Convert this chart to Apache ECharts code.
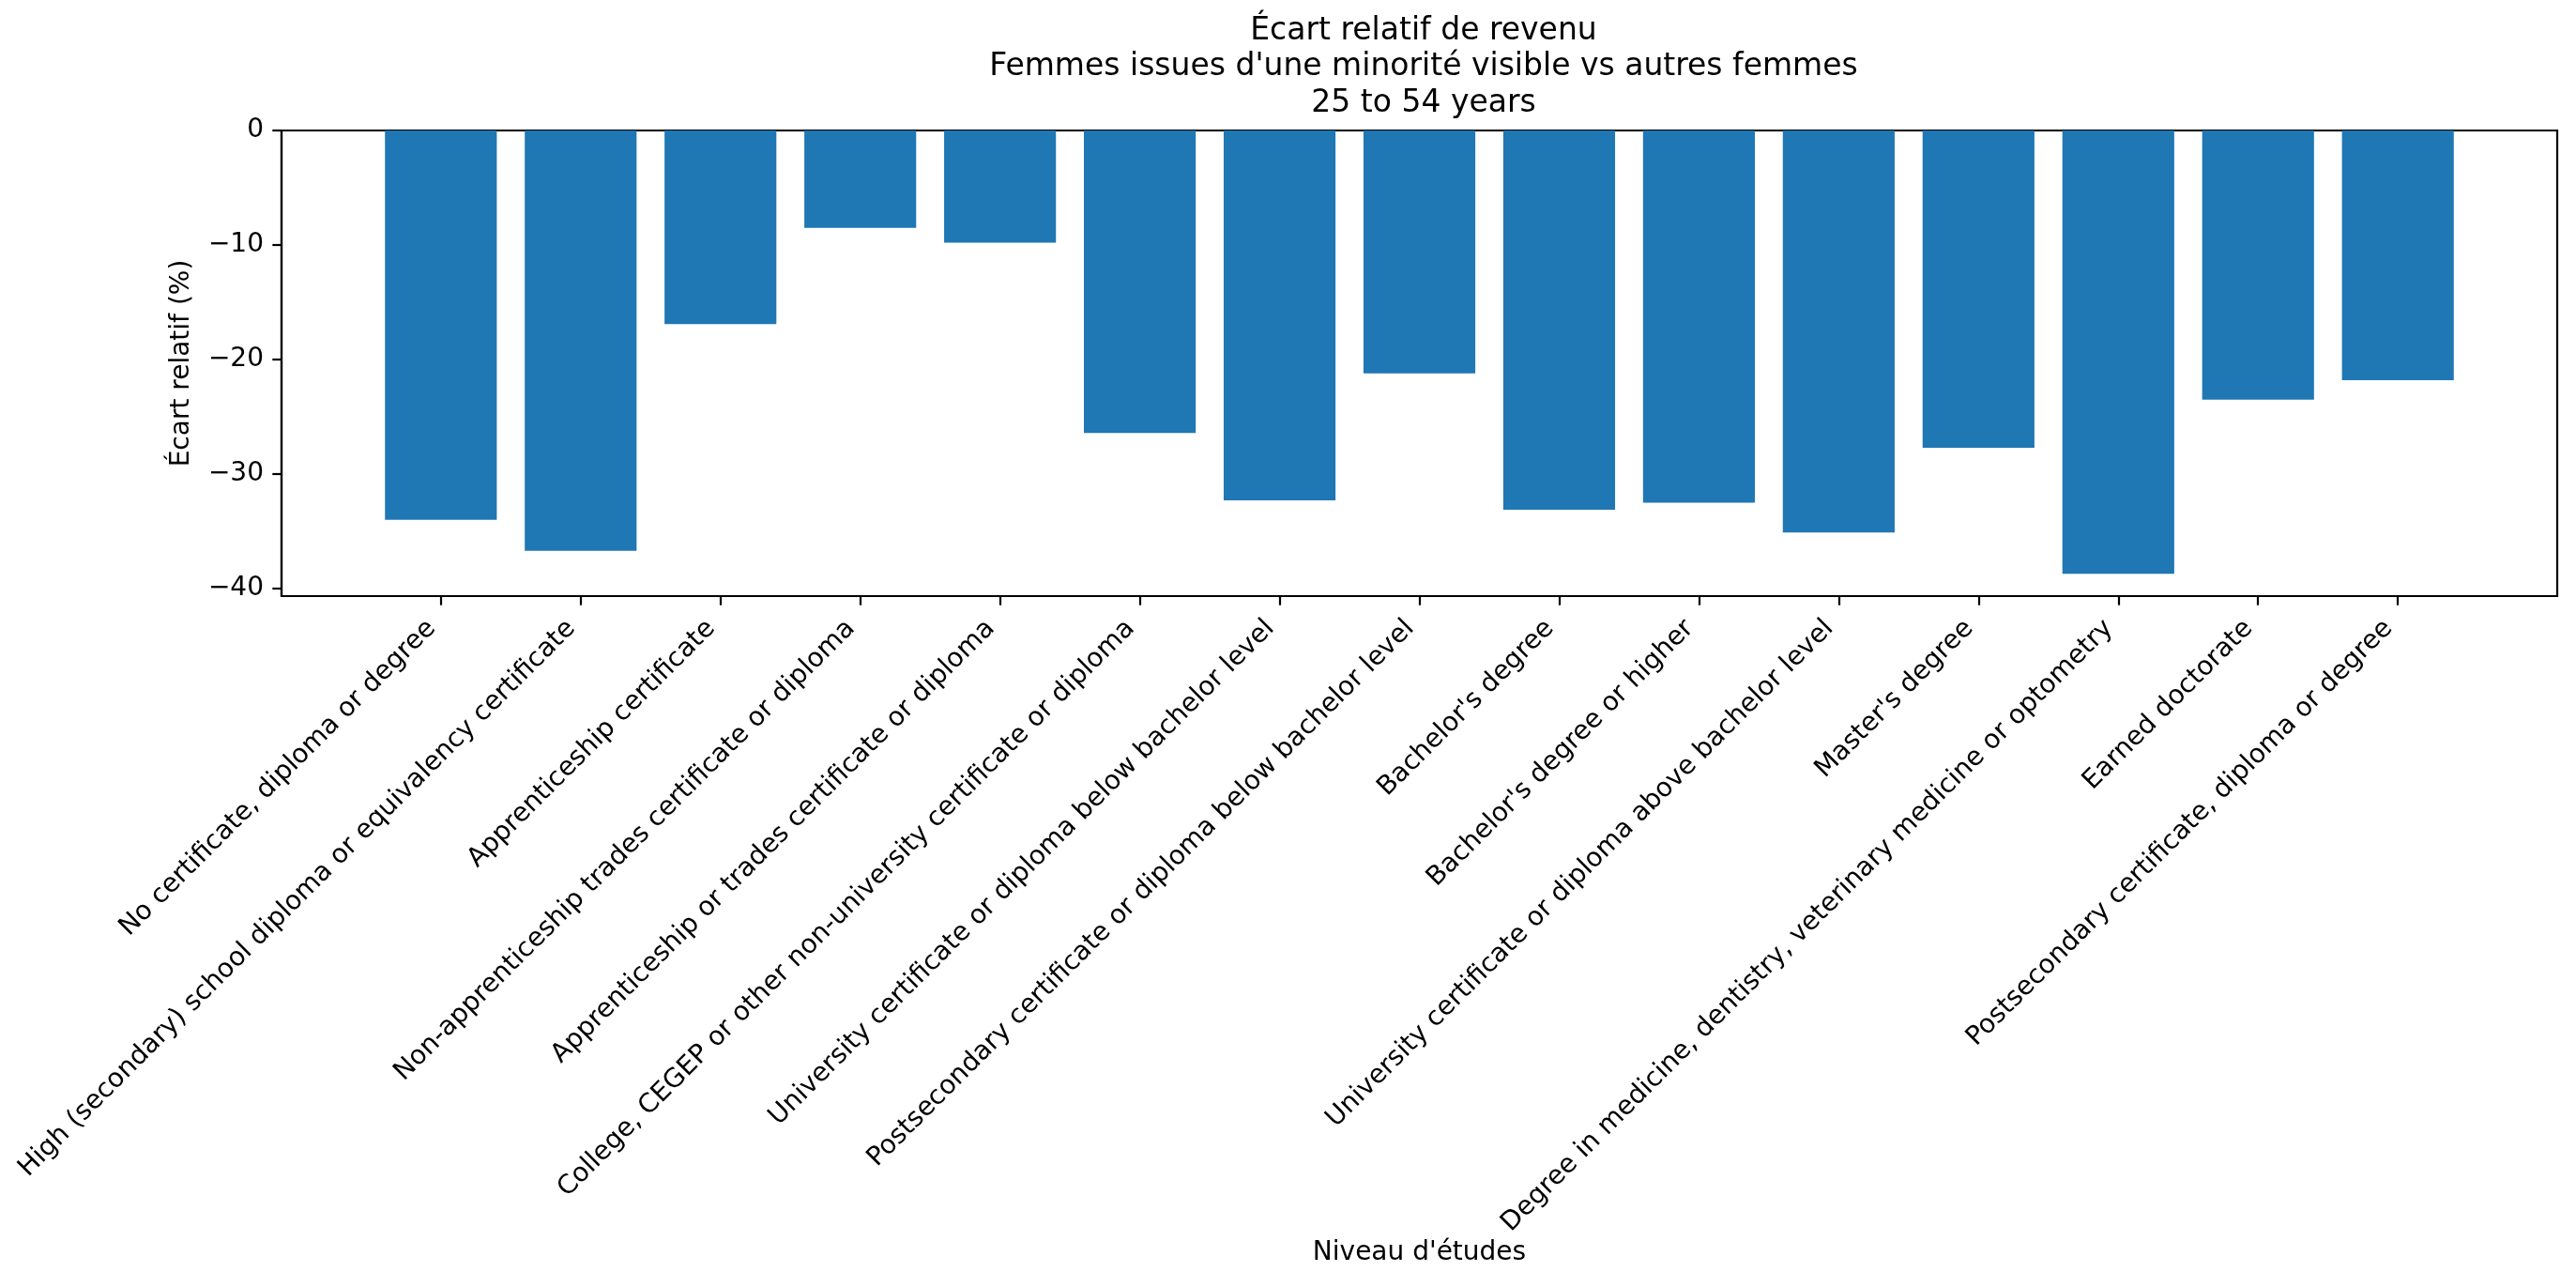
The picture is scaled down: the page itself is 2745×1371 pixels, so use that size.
<!DOCTYPE html>
<html>
<head>
<meta charset="utf-8">
<script src="https://cdn.jsdelivr.net/npm/echarts@6/dist/echarts.min.js"></script>
<style>
html,body{margin:0;padding:0;background:#fff;}
#chart{width:2745px;height:1371px;}
</style>
</head>
<body>
<div id="chart"></div>
<script>
const categories = [
  "No certificate, diploma or degree",
  "High (secondary) school diploma or equivalency certificate",
  "Apprenticeship certificate",
  "Non-apprenticeship trades certificate or diploma",
  "Apprenticeship or trades certificate or diploma",
  "College, CEGEP or other non-university certificate or diploma",
  "University certificate or diploma below bachelor level",
  "Postsecondary certificate or diploma below bachelor level",
  "Bachelor's degree",
  "Bachelor's degree or higher",
  "University certificate or diploma above bachelor level",
  "Master's degree",
  "Degree in medicine, dentistry, veterinary medicine or optometry",
  "Earned doctorate",
  "Postsecondary certificate, diploma or degree"
];
const values = [-34.0, -36.7, -16.9, -8.5, -9.8, -26.4, -32.3, -21.2, -33.1, -32.5, -35.1, -27.7, -38.7, -23.5, -21.8];
const yTicks = [0, -10, -20, -30, -40];

const positions = categories.map((c, i) => i);
const font = 'DejaVu Sans';
const chart = echarts.init(document.getElementById('chart'));
const option = {
  animation: false,
  backgroundColor: '#ffffff',
  title: {
    text: "Écart relatif de revenu\nFemmes issues d'une minorité visible vs autres femmes\n25 to 54 years",
    left: 1512,
    top: 9,
    textAlign: 'center',
    textStyle: {fontFamily: font, fontSize: 33, fontWeight: 'normal', color: '#000', lineHeight: 38.5}
  },
  grid: {
    left: 300, right: 20, top: 139, bottom: 736,
    show: true, borderColor: '#000', borderWidth: 2.2, backgroundColor: 'transparent'
  },
  xAxis: {
    type: 'value',
    min: -1.14, max: 15.14,
    name: "Niveau d'études",
    nameLocation: 'middle',
    nameGap: 684,
    nameTextStyle: {fontFamily: font, fontSize: 28, color: '#000'},
    splitLine: {show: false},
    axisLine: {show: true, onZero: false, lineStyle: {color: '#000', width: 2.2}},
    axisTick: {show: true, customValues: positions, length: 9.7, lineStyle: {color: '#000', width: 2.2}},
    axisLabel: {
      customValues: positions,
      rotate: 45,
      margin: 40,
      verticalAlign: 'bottom',
      fontFamily: font, fontSize: 28, color: '#000',
      formatter: v => categories[Math.round(v)]
    }
  },
  yAxis: {
    type: 'value',
    min: -40.65, max: 0,
    name: 'Écart relatif (%)',
    nameLocation: 'middle',
    nameRotate: 90,
    nameGap: 92,
    nameTextStyle: {fontFamily: font, fontSize: 28, color: '#000'},
    splitLine: {show: false},
    axisLine: {show: true, onZero: false, lineStyle: {color: '#000', width: 2.2}},
    axisTick: {show: true, customValues: yTicks, length: 9.7, lineStyle: {color: '#000', width: 2.2}},
    axisLabel: {
      customValues: yTicks,
      margin: 19,
      fontFamily: font, fontSize: 28, color: '#000',
      formatter: v => (v < 0 ? '\u2212' + Math.abs(v) : String(v))
    }
  },
  series: [{
    type: 'bar',
    data: values.map((v, i) => [positions[i], v]),
    barWidth: 119,
    itemStyle: {color: '#1f77b4'},
    silent: true
  }]
};
chart.setOption(option);
const w = chart.convertToPixel({xAxisIndex: 0}, 0.8) - chart.convertToPixel({xAxisIndex: 0}, 0);
chart.setOption({series: [{barWidth: w}]});
</script>
</body>
</html>
